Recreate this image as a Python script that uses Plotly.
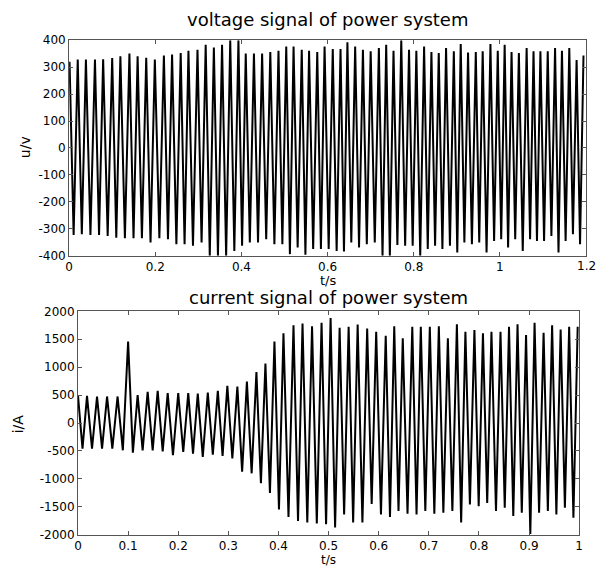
import plotly.graph_objects as go

# ---------------- voltage signal ----------------
v_peak_t = [0.001, 0.020, 0.039, 0.060, 0.079, 0.100, 0.119, 0.140, 0.159, 0.179,
            0.199, 0.220, 0.239, 0.259, 0.277, 0.298, 0.317, 0.336, 0.355, 0.374,
            0.393, 0.410, 0.429, 0.448, 0.467, 0.486, 0.504, 0.521, 0.540, 0.557,
            0.576, 0.593, 0.612, 0.630, 0.646, 0.664, 0.682, 0.700, 0.719, 0.736,
            0.753, 0.771, 0.789, 0.806, 0.824, 0.841, 0.858, 0.875, 0.893, 0.909,
            0.926, 0.944, 0.960, 0.978, 0.995, 1.011, 1.027, 1.044, 1.062, 1.078,
            1.094, 1.111, 1.128, 1.144, 1.161, 1.178, 1.194]
v_peak = [320, 328, 328, 328, 329, 334, 340, 350, 340, 335,
          328, 343, 347, 352, 361, 364, 383, 373, 383, 400,
          400, 350, 350, 350, 356, 361, 376, 376, 364, 361,
          356, 376, 367, 367, 392, 376, 364, 359, 371, 383,
          361, 400, 364, 361, 376, 356, 352, 371, 359, 386,
          354, 356, 359, 386, 361, 383, 356, 352, 371, 359,
          359, 359, 371, 361, 371, 326, 343]
v_trough = [-323, -320, -323, -323, -327, -333, -335, -335, -335, -351,
            -335, -339, -357, -357, -363, -351, -400, -400, -400, -382,
            -363, -351, -351, -339, -357, -357, -394, -369,
            -396, -375, -375, -375, -382, -384, -351, -369, -357, -351,
            -400, -400, -360, -363, -363, -400, -375, -363, -375, -363,
            -388, -351, -357, -351, -388, -345, -339, -369, -339, -382,
            -339, -345, -345, -327, -388, -345, -320, -357]

# ---------------- current signal ----------------
i_start_t = 0.0
i_start = 490
i_peak_t = [0.018, 0.038, 0.058, 0.079, 0.100, 0.119, 0.139, 0.159, 0.179, 0.200,
            0.220, 0.239, 0.259, 0.279, 0.298, 0.318, 0.337, 0.356, 0.374, 0.392,
            0.410, 0.430, 0.448, 0.467, 0.486, 0.504, 0.522, 0.540, 0.558, 0.577,
            0.595, 0.614, 0.631, 0.648, 0.667, 0.684, 0.702, 0.720, 0.738, 0.756,
            0.773, 0.791, 0.808, 0.825, 0.843, 0.860, 0.877, 0.894, 0.911, 0.929,
            0.946, 0.963, 0.980, 0.997]
i_peak = [488, 476, 476, 476, 1459, 500, 559, 576, 535, 535,
          535, 530, 547, 576, 665, 653, 741, 912, 1065, 1459,
          1606, 1753, 1782, 1735, 1794, 1882, 1706, 1724, 1765, 1694,
          1635, 1565, 1735, 1518, 1724, 1724, 1724, 1735, 1518, 1771,
          1635, 1665, 1606, 1635, 1635, 1724, 1771, 1576, 1794, 1618,
          1753, 1676, 1724, 1724]
i_trough = [-459, -459, -459, -459, -488, -529, -488, -488, -506, -576,
            -518, -547, -606, -565, -588, -635, -870, -900, -1076, -1253,
            -1547, -1682, -1753, -1782, -1800, -1812, -1870, -1635, -1782, -1782,
            -1447, -1635, -1682, -1576, -1623, -1635, -1576, -1623, -1606, -1576,
            -1782, -1459, -1488, -1429, -1576, -1518, -1665, -1606, -1988, -1606,
            -1576, -1635, -1518, -1694]

# tick labels
v_yticks = [-400, -300, -200, -100, 0, 100, 200, 300, 400]
v_xticks = [0, 0.2, 0.4, 0.6, 0.8, 1.0, 1.2]
v_xtext = ["0", "0.2", "0.4", "0.6", "0.8", "1", "1.2"]
i_yticks = [-2000, -1500, -1000, -500, 0, 500, 1000, 1500, 2000]
i_xticks = [0, 0.1, 0.2, 0.3, 0.4, 0.5, 0.6, 0.7, 0.8, 0.9, 1.0]
i_xtext = ["0", "0.1", "0.2", "0.3", "0.4", "0.5", "0.6", "0.7", "0.8", "0.9", "1"]

assert len(v_peak_t) == len(v_peak) == len(v_trough) + 1
assert len(i_peak_t) == len(i_peak) == len(i_trough)


def hy(v):
    return str(v).replace("\u2212", "-")


# alternate peak / trough extremes
vt, vv = [v_peak_t[0]], [v_peak[0]]
for k in range(1, len(v_peak_t)):
    vt.append((v_peak_t[k - 1] + v_peak_t[k]) / 2)
    vv.append(v_trough[k - 1])
    vt.append(v_peak_t[k])
    vv.append(v_peak[k])

it, iv = [i_start_t], [i_start]
prev = i_start_t
for k in range(len(i_peak_t)):
    it.append((prev + i_peak_t[k]) / 2)
    iv.append(i_trough[k])
    it.append(i_peak_t[k])
    iv.append(i_peak[k])
    prev = i_peak_t[k]

W, H = 596, 572
FONT = "DejaVu Sans"
TICK = 12

fig = go.Figure()
fig.add_trace(go.Scatter(x=vt, y=vv, mode="lines", line=dict(color="black", width=2),
                         xaxis="x", yaxis="y", hoverinfo="skip"))
fig.add_trace(go.Scatter(x=it, y=iv, mode="lines", line=dict(color="black", width=2),
                         xaxis="x2", yaxis="y2", hoverinfo="skip"))

axis_common = dict(showgrid=False, zeroline=False, showline=True, linecolor="#555555",
                   linewidth=1, mirror="ticks", ticks="inside", ticklen=4,
                   tickcolor="#555555", tickfont=dict(family=FONT, size=TICK, color="black"))

fig.update_layout(
    width=W, height=H, margin=dict(l=0, r=0, t=0, b=0),
    paper_bgcolor="white", plot_bgcolor="white", showlegend=False,
    xaxis=dict(domain=[66 / W, 590 / W], range=[0, 1.2], anchor="y",
               tickvals=v_xticks[:-1], ticktext=v_xtext[:-1], **axis_common),
    yaxis=dict(domain=[1 - 255 / H, 1 - 34 / H], range=[-400, 400], anchor="x",
               tickvals=v_yticks, ticktext=[hy(v) for v in v_yticks], **axis_common),
    xaxis2=dict(domain=[75 / W, 583 / W], range=[0, 1], anchor="y2",
                tickvals=i_xticks, ticktext=i_xtext, **axis_common),
    yaxis2=dict(domain=[1 - 541 / H, 1 - 312 / H], range=[-2000, 2000], anchor="x2",
                tickvals=i_yticks, ticktext=[hy(v) for v in i_yticks], **axis_common),
)
# last top tick label (at the right edge, partly cut off as in the reference)
fig.add_annotation(text=v_xtext[-1], x=v_xticks[-1], xref="x", y=1 - 266 / H, yref="paper",
                   showarrow=False, xanchor="center", yanchor="middle",
                   font=dict(family=FONT, size=TICK, color="black"))


def ann(text, xp, yp, size, angle=0):
    fig.add_annotation(text=text, x=xp / W, y=1 - yp / H, xref="paper", yref="paper",
                       showarrow=False, textangle=angle, xanchor="center", yanchor="middle",
                       font=dict(family=FONT, size=size, color="black"))

ann("voltage signal of power system", 328, 13, 18)
ann("t/s", 328, 280, 13)
ann("u/v", 22, 144, 14, -90)
ann("current signal of power system", 329, 298, 18)
ann("t/s", 329, 566.5, 12)
ann("i/A", 14, 427, 14, -90)

fig.write_html("out.html")
